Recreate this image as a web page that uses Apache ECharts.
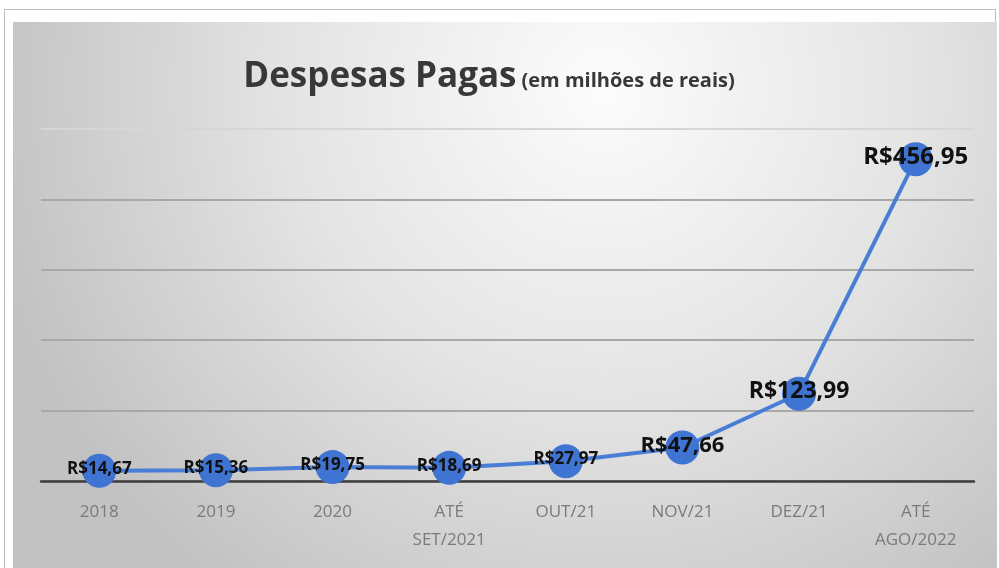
<!DOCTYPE html>
<html>
<head>
<meta charset="utf-8">
<script src="https://cdn.jsdelivr.net/npm/echarts@6/dist/echarts.min.js"></script>
<style>html,body{margin:0;padding:0;background:#fff;}#c{width:999px;height:568px;}</style>
</head>
<body>
<div id="c"></div>
<script>
const categories = ['2018', '2019', '2020', 'ATÉ\nSET/2021', 'OUT/21', 'NOV/21', 'DEZ/21', 'ATÉ\nAGO/2022'];
const values = [14.67, 15.36, 19.75, 18.69, 27.97, 47.66, 123.99, 456.95];
const valueLabels = ['R$14,67', 'R$15,36', 'R$19,75', 'R$18,69', 'R$27,97', 'R$47,66', 'R$123,99', 'R$456,95'];
const labelFontSizes = [17, 17, 17, 17, 17, 22, 23, 24];

const chart = echarts.init(document.getElementById('c'));
chart.setOption({
  animation: false,
  graphic: [
    { type: 'rect', z: -10, shape: { x: 4.5, y: 9.5, width: 991, height: 570 },
      style: { fill: '#ffffff', stroke: '#bdbdbd', lineWidth: 1 } },
    { type: 'rect', z: -9, shape: { x: 13, y: 22, width: 984, height: 546 },
      style: { fill: new echarts.graphic.RadialGradient(0.6, 0.12, 1.15, [
        { offset: 0, color: '#fcfcfc' },
        { offset: 0.5, color: '#e4e4e4' },
        { offset: 1, color: '#c2c2c2' }
      ]) } }
  ],
  title: {
    text: '{a|Despesas Pagas} {b|(em milhões de reais)}',
    left: 484, top: 55, textAlign: 'center',
    textStyle: {
      rich: {
        a: { fontFamily: 'Open Sans', fontWeight: 700, fontSize: 35, color: '#383838' },
        b: { fontFamily: 'Open Sans', fontWeight: 700, fontSize: 20, color: '#383838', padding: [8, 0, 0, 0] }
      }
    }
  },
  grid: { left: 41, right: 25, top: 129, bottom: 87 },
  xAxis: {
    type: 'category', data: categories, boundaryGap: true,
    axisLine: { lineStyle: { color: '#3d3d3d', width: 2.5 } },
    axisTick: { show: false },
    axisLabel: { color: '#7a7a7a', fontFamily: 'Open Sans', fontSize: 17, lineHeight: 28, margin: 17, interval: 0 }
  },
  yAxis: {
    type: 'value', min: 0, max: 500, interval: 100,
    axisLabel: { show: false }, axisLine: { show: false }, axisTick: { show: false },
    splitLine: { lineStyle: { color: ['#a8a8a8', '#a8a8a8', '#a8a8a8', '#a8a8a8', '#a8a8a8', '#d6d6d6'], width: 2 } }
  },
  series: [{
    type: 'line', data: values.map((v, i) => ({
      value: v,
      label: { fontSize: labelFontSizes[i], formatter: valueLabels[i] }
    })),
    symbol: 'circle', symbolSize: 34,
    lineStyle: { color: '#4a7ed6', width: 4 },
    itemStyle: { color: '#3f74d2' },
    label: { show: true, position: 'inside', color: '#111', fontWeight: 700, fontFamily: 'Open Sans', offset: [0, -2] },
    z: 5
  }]
});
</script>
</body>
</html>
